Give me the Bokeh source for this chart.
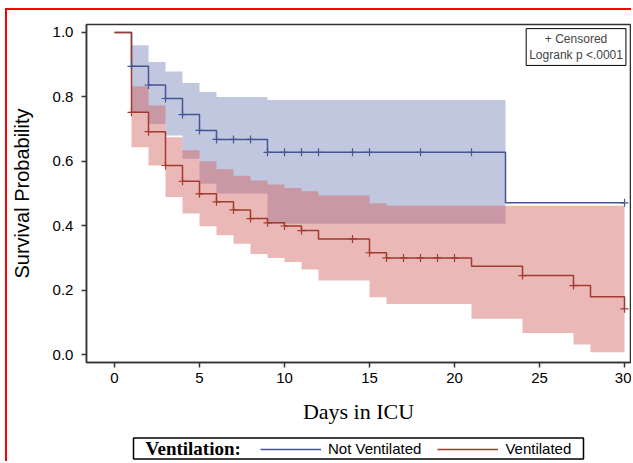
from bokeh.plotting import figure
from bokeh.models import (Legend, LegendItem, Label, FixedTicker, NumeralTickFormatter,
                          Range1d, BoxAnnotation, LinearAxis)
from bokeh.embed import file_html
from bokeh.resources import INLINE

# ---- Not Ventilated (blue) ----
nv_t = [0, 1, 2, 3, 4, 5, 6, 9, 23, 30]
nv_s = [1.0, 0.895, 0.837, 0.795, 0.745, 0.696, 0.668, 0.628, 0.471, 0.471]
nv_band_t = [1, 2, 3, 4, 5, 6, 9, 23]
nv_upper = [0.960, 0.908, 0.879, 0.843, 0.815, 0.800, 0.790, 0.790]
nv_lower = [0.750, 0.716, 0.680, 0.608, 0.530, 0.500, 0.406, 0.406]
nv_cens_t = [1, 2, 3, 4, 5, 6, 7, 8, 9, 10, 11, 12, 14, 15, 18, 21, 30]

# ---- Ventilated (red) ----
v_t = [0, 1, 2, 3, 4, 5, 6, 7, 8, 9, 10, 11, 12, 15, 16, 21, 24, 27, 28, 30]
v_s = [1.0, 0.752, 0.692, 0.587, 0.538, 0.499, 0.474, 0.449, 0.422, 0.409, 0.399,
       0.385, 0.359, 0.316, 0.300, 0.274, 0.245, 0.214, 0.179, 0.142]
v_band_t = [1, 2, 3, 4, 5, 6, 7, 8, 9, 10, 11, 12, 15, 16, 21, 24, 27, 28, 30]
v_upper = [0.833, 0.773, 0.675, 0.634, 0.600, 0.575, 0.555, 0.540, 0.528, 0.517,
           0.507, 0.494, 0.470, 0.462, 0.462, 0.462, 0.462, 0.462, 0.462]
v_lower = [0.644, 0.587, 0.489, 0.438, 0.398, 0.370, 0.344, 0.312, 0.300, 0.287,
           0.264, 0.230, 0.178, 0.157, 0.111, 0.067, 0.031, 0.007, 0.007]
v_cens_t = [1, 2, 3, 4, 5, 6, 7, 8, 9, 10, 11, 14, 15, 16, 17, 18, 19, 20, 24, 27, 30]

x_ticks = [0, 5, 10, 15, 20, 25, 30]
y_ticks = [0.0, 0.2, 0.4, 0.6, 0.8, 1.0]

BLUE_LINE, BLUE_FILL = "#445694", "#6F7EB3"
RED_LINE, RED_FILL = "#A23A2E", "#D05B5B"
AX = "#333333"

# plot area extents (data units)
X_LO, X_HI = -1.65, 30.35
Y_LO, Y_HI = -0.0248, 1.0248


def surv_at(ts, ss, t):
    val = ss[0]
    for ti, si in zip(ts, ss):
        if ti <= t:
            val = si
    return val


p = figure(width=626, height=453, output_backend="svg", toolbar_location=None,
           x_range=Range1d(-6.294, 30.529), y_range=Range1d(-0.3385, 1.0683),
           x_axis_location=None, y_axis_location=None, min_border=0)
p.styles = {"margin-left": "5px", "margin-top": "8px",
            "border-left": "2px solid #FF0000", "border-top": "2px solid #FF0000"}
p.grid.visible = False
p.outline_line_color = None

# confidence bands
p.varea_step(x=nv_band_t, y1=nv_lower, y2=nv_upper, step_mode="after",
             fill_color=BLUE_FILL, fill_alpha=0.43)
p.varea_step(x=v_band_t, y1=v_lower, y2=v_upper, step_mode="after",
             fill_color=RED_FILL, fill_alpha=0.43)

# survival curves
r_nv = p.step(x=nv_t, y=nv_s, mode="after", line_color=BLUE_LINE, line_width=1.5)
r_v = p.step(x=v_t, y=v_s, mode="after", line_color=RED_LINE, line_width=1.5)

p.scatter(x=nv_cens_t, y=[surv_at(nv_t, nv_s, t) for t in nv_cens_t], marker="cross",
          size=8, line_color=BLUE_LINE, line_width=1.2)
p.scatter(x=v_cens_t, y=[surv_at(v_t, v_s, t) for t in v_cens_t], marker="cross",
          size=8, line_color=RED_LINE, line_width=1.2)

# plot-area outline
p.add_layout(BoxAnnotation(left=X_LO, right=X_HI, bottom=Y_LO, top=Y_HI,
                           fill_color=None, line_color=AX, line_alpha=1,
                           line_width=1.5))

# axes at fixed positions
xaxis = LinearAxis(fixed_location=Y_LO, bounds=(X_LO, X_HI),
                   ticker=FixedTicker(ticks=x_ticks))
yaxis = LinearAxis(fixed_location=X_LO, bounds=(Y_LO, Y_HI),
                   ticker=FixedTicker(ticks=y_ticks),
                   formatter=NumeralTickFormatter(format="0.0"))
for ax in (xaxis, yaxis):
    ax.axis_line_color = AX
    ax.axis_line_width = 1.5
    ax.major_tick_line_color = AX
    ax.major_tick_line_width = 1.5
    ax.major_tick_out = 5
    ax.major_tick_in = 0
    ax.minor_tick_line_color = None
    ax.major_label_text_font = "Liberation Sans"
    ax.major_label_text_font_size = "15px"
    ax.major_label_text_color = "black"
    ax.axis_label_text_color = "black"

xaxis.major_label_standoff = 6
yaxis.major_label_standoff = 8
xaxis.axis_label = "Days in ICU"
xaxis.axis_label_text_font = "Liberation Serif"
xaxis.axis_label_text_font_style = "normal"
xaxis.axis_label_text_font_size = "22px"
xaxis.axis_label_standoff = 12
yaxis.axis_label = "Survival Probability"
yaxis.axis_label_text_font = "Liberation Sans"
yaxis.axis_label_text_font_style = "normal"
yaxis.axis_label_text_font_size = "20px"
yaxis.axis_label_standoff = 17
p.add_layout(xaxis, "below")
p.add_layout(yaxis, "left")

# inset box
inset = Label(x=27.15, y=1.012, text="+ Censored\nLogrank p <.0001",
              text_align="center", text_baseline="top",
              text_font="Liberation Sans", text_font_size="12px",
              border_line_color="black", border_line_width=1,
              background_fill_color="white", padding=3)
p.add_layout(inset)

# bottom legend: box, title, items
p.add_layout(BoxAnnotation(left=1.118, right=27.588, top=-0.2593, bottom=-0.3245,
                           fill_color="white", fill_alpha=1, line_color="black",
                           line_alpha=1, line_width=1.5))
p.add_layout(Label(x=1.824, y=-0.2919, text="Ventilation:", text_align="left",
                   text_baseline="middle", text_font="Liberation Serif",
                   text_font_style="bold", text_font_size="19px", text_color="black"))
legend = Legend(items=[LegendItem(label="Not Ventilated", renderers=[r_nv]),
                       LegendItem(label="Ventilated", renderers=[r_v])],
                orientation="horizontal", location=(253, 6),
                label_text_font="Liberation Sans", label_text_font_size="15px",
                label_text_color="black",
                glyph_width=61, glyph_height=12, label_standoff=7, spacing=16,
                padding=0, margin=0, border_line_color=None,
                background_fill_alpha=0)
p.add_layout(legend)

open("out.html", "w").write(file_html(p, INLINE))
